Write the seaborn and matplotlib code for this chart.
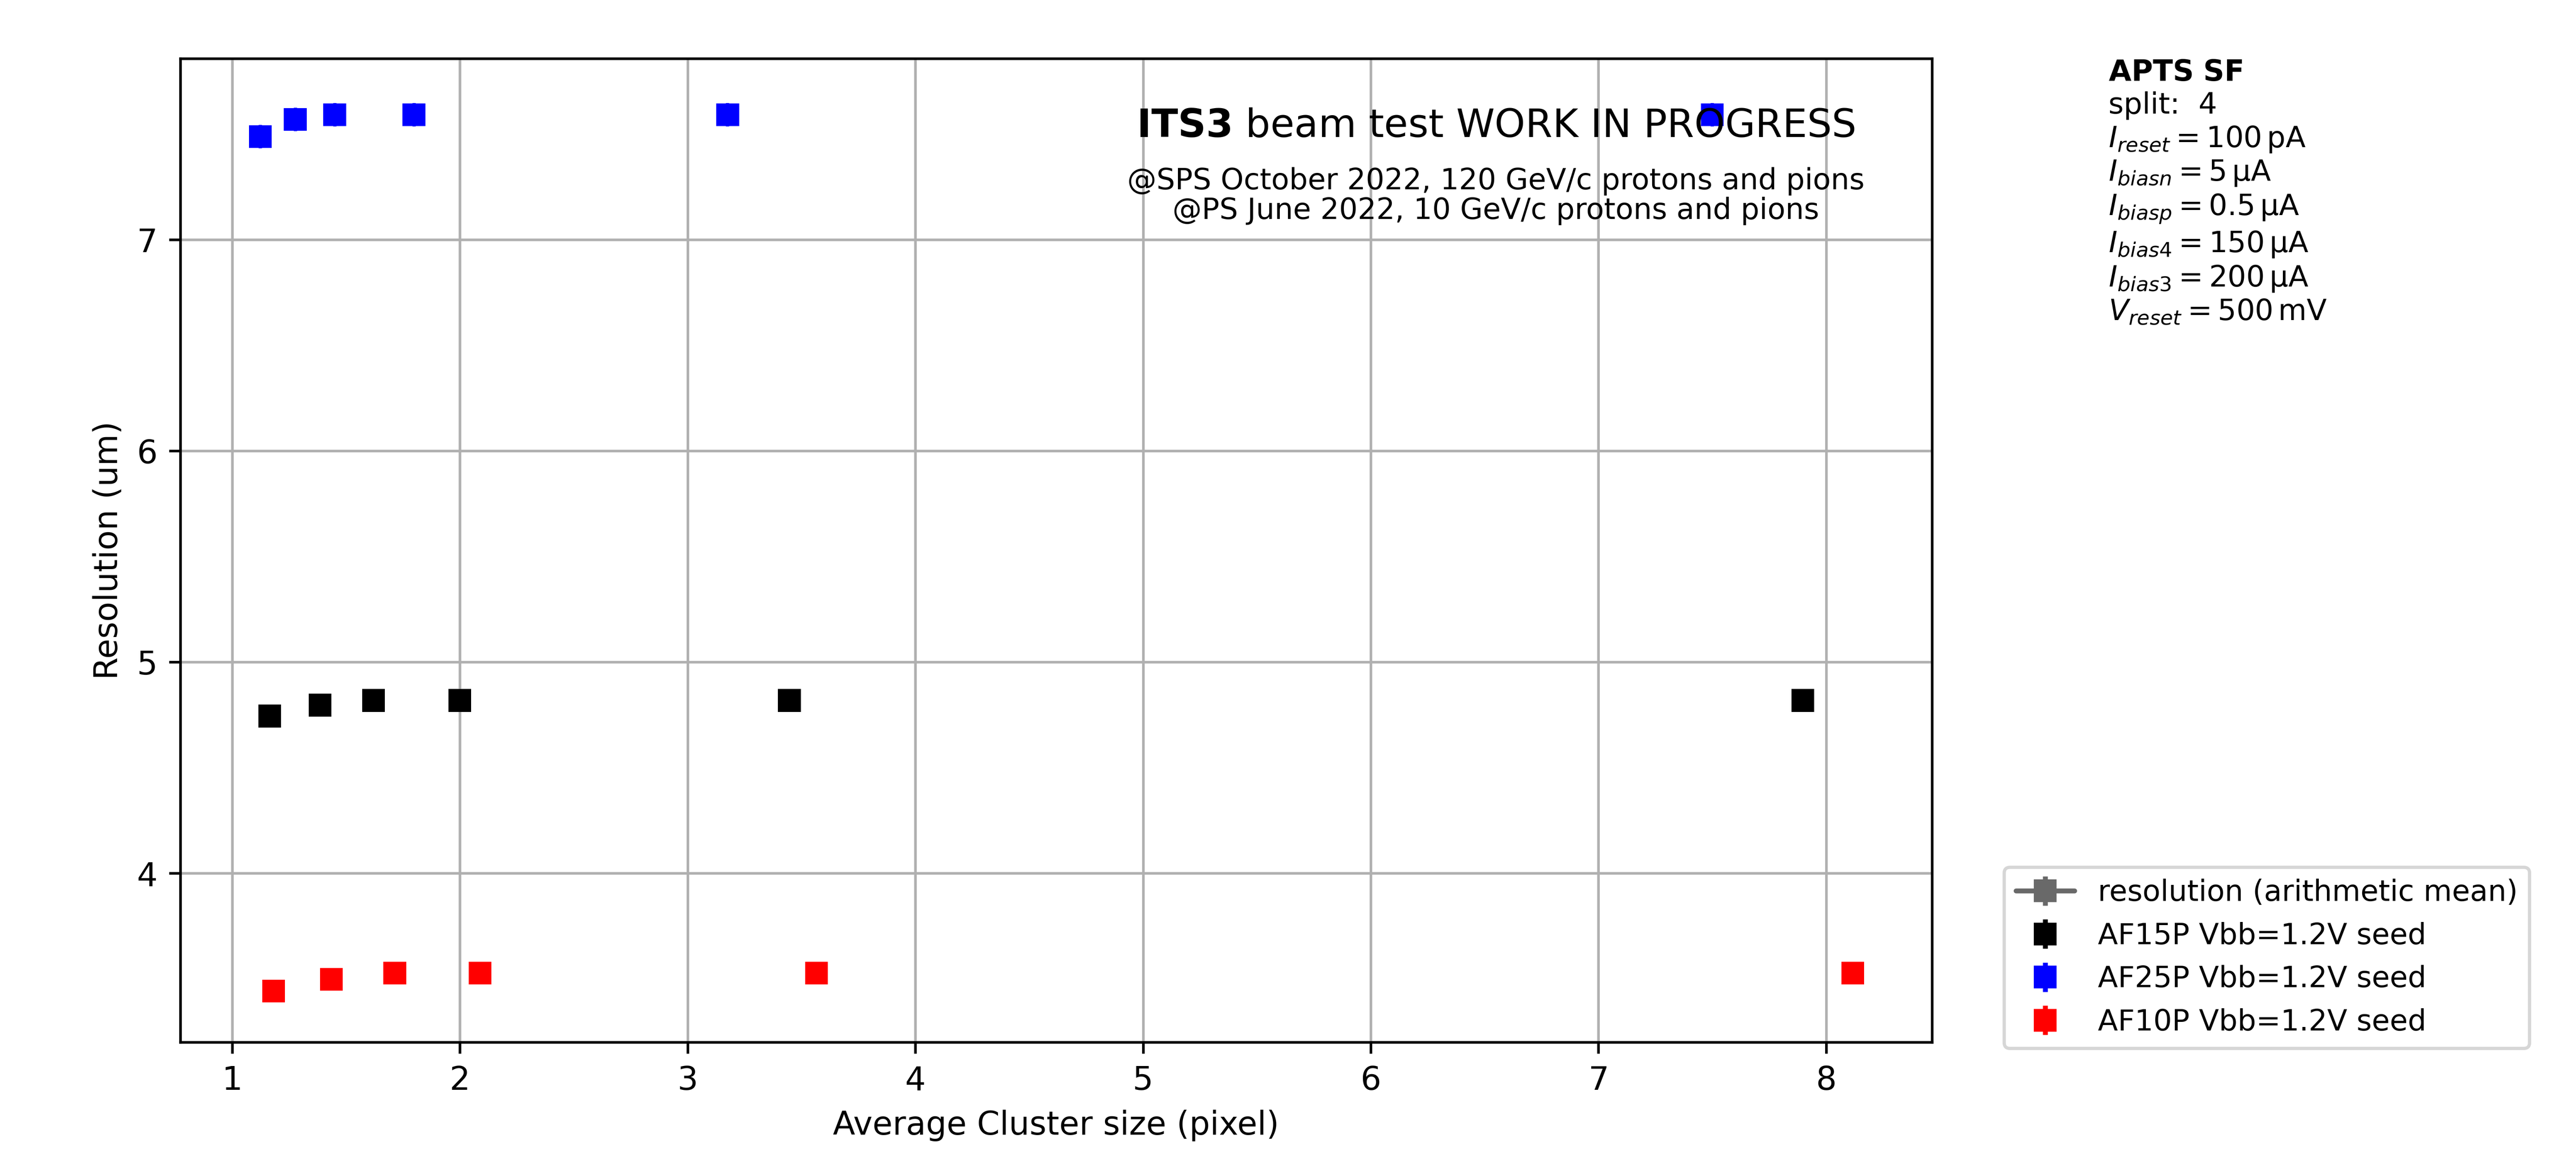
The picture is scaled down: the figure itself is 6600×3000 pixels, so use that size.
import numpy as np
import pandas as pd
import matplotlib
matplotlib.use("Agg")
import matplotlib.pyplot as plt
import seaborn as sns

# ---------------- data ----------------
labels = ["AF15P Vbb=1.2V seed", "AF25P Vbb=1.2V seed", "AF10P Vbb=1.2V seed"]
colors = ["black", "blue", "red"]

af15_cs = [1.165, 1.386, 1.620, 1.999, 3.447, 7.898]
af15_res = [4.744, 4.796, 4.818, 4.818, 4.818, 4.818]
af15_err = [0.05, 0.05, 0.05, 0.05, 0.05, 0.05]

af25_cs = [1.123, 1.277, 1.450, 1.798, 3.176, 7.500]
af25_res = [7.487, 7.569, 7.591, 7.591, 7.591, 7.591]
af25_err = [0.055, 0.055, 0.055, 0.055, 0.055, 0.055]

af10_cs = [1.182, 1.435, 1.714, 2.088, 3.566, 8.117]
af10_res = [3.442, 3.497, 3.527, 3.527, 3.527, 3.527]
af10_err = [0.03, 0.03, 0.03, 0.03, 0.03, 0.03]

series_cs = [af15_cs, af25_cs, af10_cs]
series_res = [af15_res, af25_res, af10_res]
series_err = [af15_err, af25_err, af10_err]

info_lines = [
    r"$\bf{APTS\ SF}$",
    "split:  4",
    r"$I_{reset} = 100\,\mathrm{pA}$",
    r"$I_{biasn} = 5\,\mathrm{\mu A}$",
    r"$I_{biasp} = 0.5\,\mathrm{\mu A}$",
    r"$I_{bias4} = 150\,\mathrm{\mu A}$",
    r"$I_{bias3} = 200\,\mathrm{\mu A}$",
    r"$V_{reset} = 500\,\mathrm{mV}$",
]

df = pd.concat(
    [pd.DataFrame({"cs": c, "res": r, "err": e, "sensor": l})
     for c, r, e, l in zip(series_cs, series_res, series_err, labels)],
    ignore_index=True,
)

# ---------------- style ----------------
sns.set_style("ticks", rc={
    "axes.edgecolor": "black",
    "axes.linewidth": 0.8,
    "axes.grid": True,
    "grid.color": "#b0b0b0",
    "grid.linewidth": 0.8,
    "grid.linestyle": "-",
    "xtick.color": "black",
    "ytick.color": "black",
    "xtick.major.size": 3.5,
    "ytick.major.size": 3.5,
    "xtick.major.width": 0.8,
    "ytick.major.width": 0.8,
    "text.color": "black",
    "axes.labelcolor": "black",
    "axes.facecolor": "white",
})
plt.rcParams["font.family"] = ["DejaVu Sans"]
plt.rcParams["font.size"] = 10
plt.rcParams["axes.labelsize"] = 10
plt.rcParams["xtick.labelsize"] = 10
plt.rcParams["ytick.labelsize"] = 10
plt.rcParams["mathtext.fontset"] = "dejavusans"

fig = plt.figure(figsize=(11, 5), dpi=600)
ax = fig.add_axes([0.070, 0.110, 0.680, 0.840])

# markers via seaborn
sns.scatterplot(data=df, x="cs", y="res", hue="sensor",
                palette=dict(zip(labels, colors)), marker="s", s=49,
                linewidth=0, legend=False, ax=ax, zorder=2.5)
# error bars
for c, r, e, col in zip(series_cs, series_res, series_err, colors):
    ax.errorbar(c, r, yerr=e, fmt="none", ecolor=col, elinewidth=1.0, zorder=2.4)

# legend proxies (errorbar style handles)
h0 = ax.errorbar([np.nan], [np.nan], yerr=[np.nan], fmt="s-", color="dimgray",
                 ms=6, label="resolution (arithmetic mean)")
hs = [h0]
for l, col in zip(labels, colors):
    hs.append(ax.errorbar([np.nan], [np.nan], yerr=[np.nan], fmt="s", color=col,
                          ms=6, label=l))

ax.set_xlim(0.772, 8.465)
ax.set_ylim(3.20, 7.857)
ax.set_xticks([1, 2, 3, 4, 5, 6, 7, 8])
ax.set_yticks([4, 5, 6, 7])
ax.set_xlabel("Average Cluster size (pixel)")
ax.set_ylabel("Resolution (um)")

ax.text(0.751, 0.920, r"$\bf{ITS3}$ beam test WORK IN PROGRESS",
        transform=ax.transAxes, ha="center", va="baseline", fontsize=12)
ax.text(0.751, 0.867, "@SPS October 2022, 120 GeV/c protons and pions",
        transform=ax.transAxes, ha="center", va="baseline", fontsize=9)
ax.text(0.751, 0.837, "@PS June 2022, 10 GeV/c protons and pions",
        transform=ax.transAxes, ha="center", va="baseline", fontsize=9)

ax.text(1.1007, 1.0, "\n".join(info_lines), transform=ax.transAxes,
        ha="left", va="top", fontsize=9)

fig.legend(handles=hs, loc="lower left",
           bbox_to_anchor=(5135 / 6600, (3000 - 2686) / 3000),
           borderaxespad=0, fontsize=9, frameon=True, fancybox=True,
           edgecolor="0.8", framealpha=0.8)

fig.savefig("out.png", dpi=600)
